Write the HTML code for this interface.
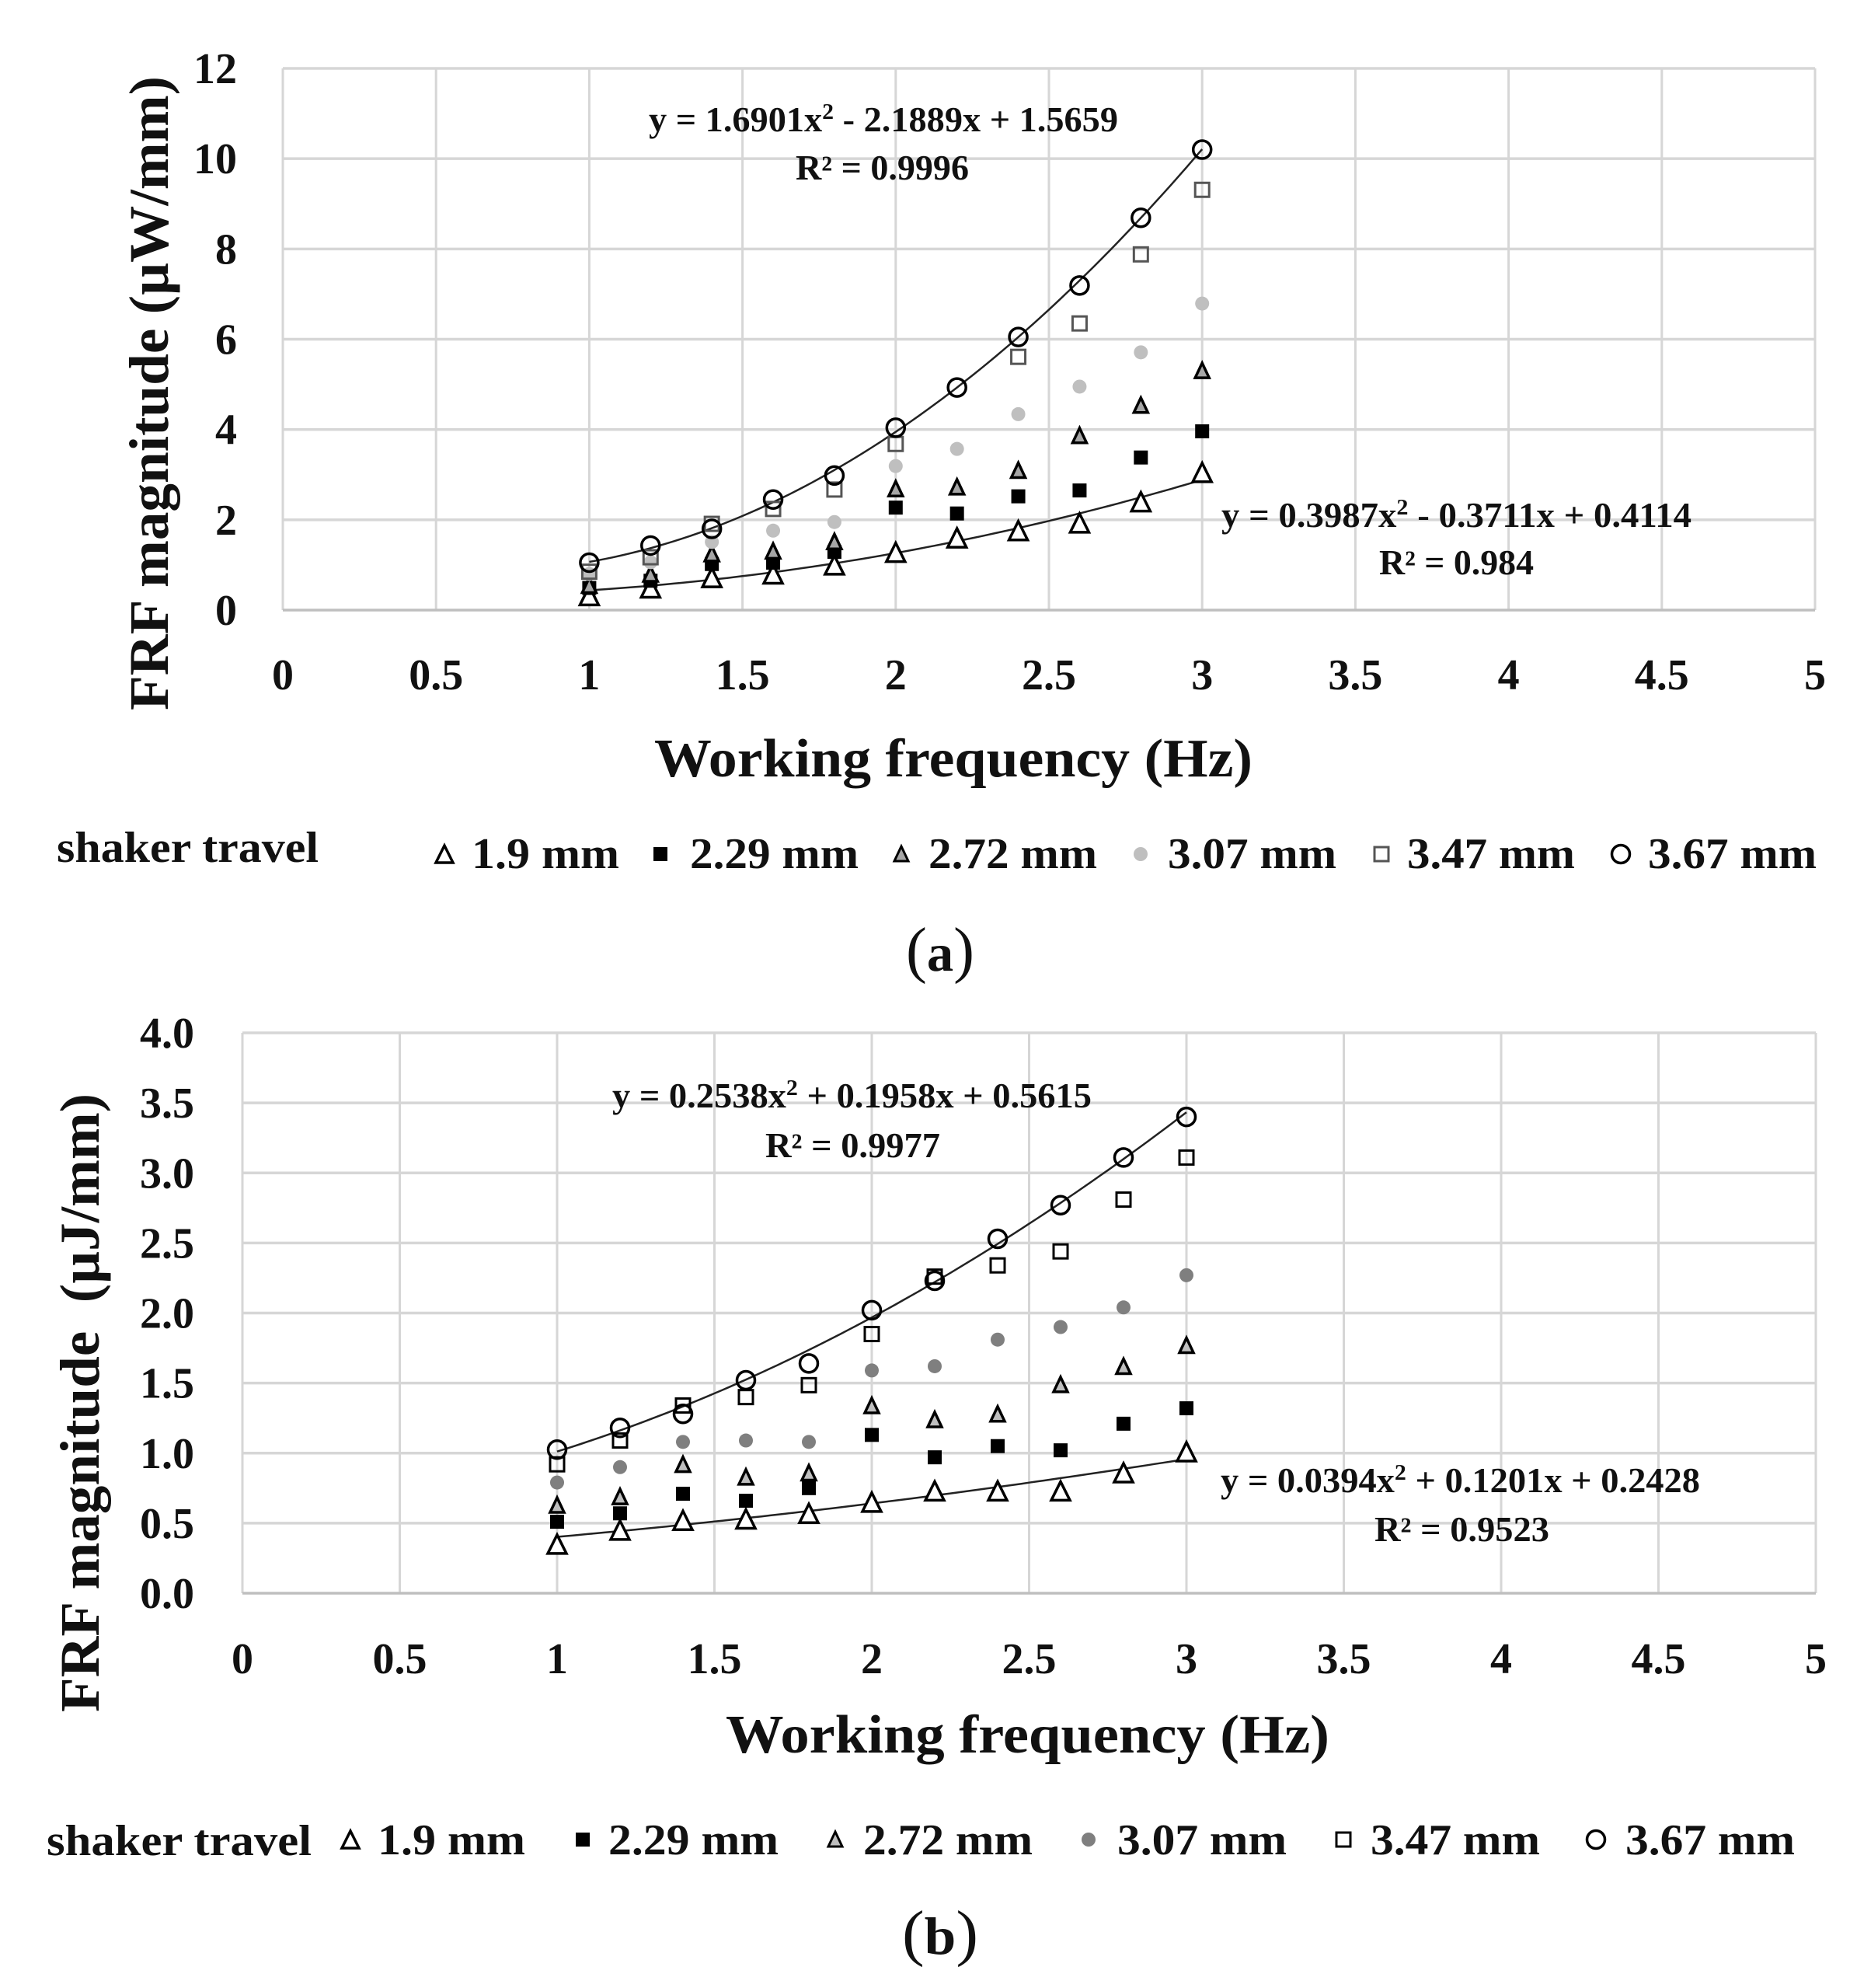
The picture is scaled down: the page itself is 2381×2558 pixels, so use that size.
<!DOCTYPE html>
<html lang="en">
<head>
<meta charset="utf-8">
<title>FRF magnitude vs working frequency</title>
<style>
html,body{margin:0;padding:0;background:#fff;}
svg{display:block;}
text{font-family:"Liberation Serif",serif;fill:#111;}
.b{font-weight:bold;}
</style>
</head>
<body>
<svg id="fig" xmlns="http://www.w3.org/2000/svg" width="2381" height="2558" viewBox="0 0 2381 2558">
  <rect width="2381" height="2558" fill="#fff"/>
  <g id="chartA"></g>
  <g id="chartB"></g>

  <!-- Chart A text -->
  <text class="b" font-size="72" text-anchor="middle" textLength="816" lengthAdjust="spacingAndGlyphs" transform="translate(216 506) rotate(-90)">FRF magnitude (µW/mm)</text>
  <text class="b" font-size="70" x="842" y="999" textLength="770" lengthAdjust="spacingAndGlyphs">Working frequency (Hz)</text>
  <text class="b" font-size="45" x="835" y="169" textLength="604" lengthAdjust="spacingAndGlyphs">y = 1.6901x<tspan font-size="29" dy="-16">2</tspan><tspan dy="16"> - 2.1889x + 1.5659</tspan></text>
  <text class="b" font-size="45" x="1024" y="231" textLength="223" lengthAdjust="spacingAndGlyphs">R² = 0.9996</text>
  <text class="b" font-size="45" x="1572" y="678" textLength="605" lengthAdjust="spacingAndGlyphs">y = 0.3987x<tspan font-size="29" dy="-16">2</tspan><tspan dy="16"> - 0.3711x + 0.4114</tspan></text>
  <text class="b" font-size="45" x="1775" y="739" textLength="199" lengthAdjust="spacingAndGlyphs">R² = 0.984</text>

  <!-- Chart A legend -->
  <g>
    <text class="b" font-size="56" x="73" y="1109" textLength="337" lengthAdjust="spacingAndGlyphs">shaker travel</text>
    <polygon points="572,1088 561,1110 583,1110" fill="#fff" stroke="#000" stroke-width="3.5"/>
    <text class="b" font-size="56" x="607" y="1117" textLength="190" lengthAdjust="spacingAndGlyphs">1.9 mm</text>
    <rect x="841" y="1090" width="18" height="18" fill="#000"/>
    <text class="b" font-size="56" x="888" y="1117" textLength="217" lengthAdjust="spacingAndGlyphs">2.29 mm</text>
    <polygon points="1160,1089 1151,1108 1169,1108" fill="#a6a6a6" stroke="#000" stroke-width="3"/>
    <text class="b" font-size="56" x="1195" y="1117" textLength="217" lengthAdjust="spacingAndGlyphs">2.72 mm</text>
    <circle cx="1468" cy="1099" r="9" fill="#bfbfbf"/>
    <text class="b" font-size="56" x="1503" y="1117" textLength="217" lengthAdjust="spacingAndGlyphs">3.07 mm</text>
    <rect x="1769" y="1090" width="18" height="18" fill="none" stroke="#555" stroke-width="3"/>
    <text class="b" font-size="56" x="1811" y="1117" textLength="216" lengthAdjust="spacingAndGlyphs">3.47 mm</text>
    <circle cx="2086" cy="1099" r="11.5" fill="none" stroke="#000" stroke-width="3.5"/>
    <text class="b" font-size="56" x="2121" y="1117" textLength="217" lengthAdjust="spacingAndGlyphs">3.67 mm</text>
  </g>
  <text font-size="80" x="1166" y="1249" textLength="88" lengthAdjust="spacingAndGlyphs">(<tspan class="b" font-size="68">a</tspan>)</text>

  <!-- Chart B text -->
  <text class="b" font-size="72" text-anchor="middle" textLength="796" lengthAdjust="spacingAndGlyphs" style="white-space:pre" transform="translate(127 1805) rotate(-90)">FRF magnitude  (µJ/mm)</text>
  <text class="b" font-size="70" x="934" y="2255" textLength="777" lengthAdjust="spacingAndGlyphs">Working frequency (Hz)</text>
  <text class="b" font-size="45" x="788" y="1425" textLength="617" lengthAdjust="spacingAndGlyphs">y = 0.2538x<tspan font-size="29" dy="-16">2</tspan><tspan dy="16"> + 0.1958x + 0.5615</tspan></text>
  <text class="b" font-size="45" x="985" y="1489" textLength="225" lengthAdjust="spacingAndGlyphs">R² = 0.9977</text>
  <text class="b" font-size="45" x="1571" y="1920" textLength="617" lengthAdjust="spacingAndGlyphs">y = 0.0394x<tspan font-size="29" dy="-16">2</tspan><tspan dy="16"> + 0.1201x + 0.2428</tspan></text>
  <text class="b" font-size="45" x="1769" y="1983" textLength="225" lengthAdjust="spacingAndGlyphs">R² = 0.9523</text>

  <!-- Chart B legend -->
  <g>
    <text class="b" font-size="56" x="60" y="2387" textLength="341" lengthAdjust="spacingAndGlyphs">shaker travel</text>
    <polygon points="451,2356 440,2378 462,2378" fill="#fff" stroke="#000" stroke-width="3.5"/>
    <text class="b" font-size="56" x="486" y="2386" textLength="190" lengthAdjust="spacingAndGlyphs">1.9 mm</text>
    <rect x="741" y="2358" width="18" height="18" fill="#000"/>
    <text class="b" font-size="56" x="783" y="2386" textLength="219" lengthAdjust="spacingAndGlyphs">2.29 mm</text>
    <polygon points="1075,2357 1066,2376 1084,2376" fill="#bfbfbf" stroke="#000" stroke-width="3"/>
    <text class="b" font-size="56" x="1111" y="2386" textLength="218" lengthAdjust="spacingAndGlyphs">2.72 mm</text>
    <circle cx="1401" cy="2367" r="9" fill="#7f7f7f"/>
    <text class="b" font-size="56" x="1438" y="2386" textLength="218" lengthAdjust="spacingAndGlyphs">3.07 mm</text>
    <rect x="1720" y="2358" width="18" height="18" fill="none" stroke="#000" stroke-width="3"/>
    <text class="b" font-size="56" x="1764" y="2386" textLength="218" lengthAdjust="spacingAndGlyphs">3.47 mm</text>
    <circle cx="2054" cy="2367" r="11.5" fill="none" stroke="#000" stroke-width="3.5"/>
    <text class="b" font-size="56" x="2092" y="2386" textLength="218" lengthAdjust="spacingAndGlyphs">3.67 mm</text>
  </g>
  <text font-size="80" x="1161" y="2514" textLength="98" lengthAdjust="spacingAndGlyphs">(<tspan class="b" font-size="68">b</tspan>)</text>
</svg>

<script>
// Shared x categories
const frequencies = [1, 1.2, 1.4, 1.6, 1.8, 2, 2.2, 2.4, 2.6, 2.8, 3];
const xTickLabels = ['0', '0.5', '1', '1.5', '2', '2.5', '3', '3.5', '4', '4.5', '5'];

// Chart A values (µW/mm)
const yTickLabelsA = ['0', '2', '4', '6', '8', '10', '12'];
const a19 = [0.32, 0.49, 0.72, 0.80, 1.00, 1.28, 1.60, 1.76, 1.93, 2.40, 3.05];
const a229 = [0.49, 0.65, 1.02, 1.05, 1.29, 2.27, 2.14, 2.52, 2.65, 3.38, 3.96];
const a272 = [0.55, 0.80, 1.25, 1.31, 1.52, 2.69, 2.73, 3.10, 3.87, 4.54, 5.31];
const a307 = [0.80, 1.06, 1.51, 1.76, 1.95, 3.19, 3.57, 4.34, 4.95, 5.71, 6.79];
const a347 = [0.85, 1.17, 1.91, 2.24, 2.67, 3.68, null, 5.61, 6.35, 7.88, 9.31];
const a367 = [1.05, 1.43, 1.80, 2.45, 2.98, 4.04, 4.93, 6.05, 7.19, 8.69, 10.20];
const trendUpperA = [1.6901, -2.1889, 1.5659];
const trendLowerA = [0.3987, -0.3711, 0.4114];

// Chart B values (µJ/mm)
const yTickLabelsB = ['0.0', '0.5', '1.0', '1.5', '2.0', '2.5', '3.0', '3.5', '4.0'];
const b19 = [0.35, 0.45, 0.52, 0.53, 0.57, 0.65, 0.73, 0.73, 0.73, 0.86, 1.01];
const b229 = [0.51, 0.57, 0.71, 0.66, 0.75, 1.13, 0.97, 1.05, 1.02, 1.21, 1.32];
const b272 = [0.63, 0.69, 0.92, 0.83, 0.86, 1.34, 1.24, 1.28, 1.49, 1.62, 1.77];
const b307 = [0.79, 0.90, 1.08, 1.09, 1.08, 1.59, 1.62, 1.81, 1.90, 2.04, 2.27];
const b347 = [0.92, 1.09, 1.34, 1.40, 1.485, 1.85, 2.26, 2.34, 2.44, 2.81, 3.11];
const b367 = [1.025, 1.18, 1.28, 1.52, 1.64, 2.02, 2.23, 2.53, 2.77, 3.11, 3.40];
const trendUpperB = [0.2538, 0.1958, 0.5615];
const trendLowerB = [0.0394, 0.1201, 0.2428];

const NS = 'http://www.w3.org/2000/svg';
function mk(tag, attrs, parent) {
  const el = document.createElementNS(NS, tag);
  for (const k in attrs) el.setAttribute(k, attrs[k]);
  parent.appendChild(el);
  return el;
}

function drawMarker(parent, kind, cx, cy, style, name) {
  let el;
  if (kind === 'triangle') {
    const w = style.w, h = style.h;
    el = mk('polygon', {
      points: cx + ',' + (cy - h / 2) + ' ' + (cx - w / 2) + ',' + (cy + h / 2) + ' ' + (cx + w / 2) + ',' + (cy + h / 2),
      fill: style.fill, stroke: style.stroke, 'stroke-width': 3.5
    }, parent);
  } else if (kind === 'square') {
    el = mk('rect', {
      x: cx - style.w / 2, y: cy - style.w / 2, width: style.w, height: style.w,
      fill: style.fill, stroke: style.stroke, 'stroke-width': style.sw
    }, parent);
  } else {
    el = mk('circle', {
      cx: cx, cy: cy, r: style.r,
      fill: style.fill, stroke: style.stroke, 'stroke-width': style.sw
    }, parent);
  }
  
  
}

function drawChart(cfg) {
  const root = document.getElementById(cfg.id);
  const xScale = v => cfg.x0 + (v - 0) / 5 * (cfg.x1 - cfg.x0);
  const yScale = v => cfg.y0 - v / cfg.yMax * (cfg.y0 - cfg.y1);

  cfg.xTicks.forEach(t => {
    const v = parseFloat(t);
    const g = mk('line', { x1: xScale(v), x2: xScale(v), y1: cfg.y1, y2: cfg.y0, stroke: '#d6d6d6', 'stroke-width': 3 }, root);
    
    
    const l = mk('text', { x: xScale(v), y: cfg.xLabelY, 'text-anchor': 'middle', 'font-size': 56, 'font-weight': 'bold' }, root);
    l.textContent = t;
    
    
  });
  cfg.yTicks.forEach(t => {
    const v = parseFloat(t);
    const g = mk('line', { x1: cfg.x0, x2: cfg.x1, y1: yScale(v), y2: yScale(v), stroke: v === 0 ? '#bfbfbf' : '#d6d6d6', 'stroke-width': 3.5 }, root);
    
    
    const l = mk('text', { x: cfg.yLabelX, y: yScale(v) + 19, 'text-anchor': 'end', 'font-size': 56, 'font-weight': 'bold' }, root);
    l.textContent = t;
    
    
  });

  cfg.trends.forEach(c => {
    let d = '';
    for (let i = 0; i <= 80; i++) {
      const x = 1 + 2 * i / 80;
      const y = c[0] * x * x + c[1] * x + c[2];
      d += (i ? 'L' : 'M') + xScale(x).toFixed(1) + ' ' + yScale(y).toFixed(1);
    }
    const p = mk('path', { d: d, fill: 'none', stroke: '#222', 'stroke-width': 2.5 }, root);
    
    
  });

  cfg.series.forEach(s => {
    const g = mk('g', {}, root);
    
    
    s.values.forEach((v, i) => {
      if (v === null) return;
      drawMarker(g, s.kind, xScale(frequencies[i]), yScale(v), s.style, s.name + '-point');
    });
  });
}

drawChart({
  id: 'chartA', x0: 364, x1: 2336, y0: 785, y1: 88, yMax: 12,
  xLabelY: 887, yLabelX: 305, xTicks: xTickLabels, yTicks: yTickLabelsA,
  trends: [trendUpperA, trendLowerA],
  series: [
    { name: 'series-1-9-mm', values: a19, kind: 'triangle', style: { w: 24, h: 24, fill: '#fff', stroke: '#000' } },
    { name: 'series-2-29-mm', values: a229, kind: 'square', style: { w: 18, fill: '#000', stroke: 'none', sw: 0 } },
    { name: 'series-2-72-mm', values: a272, kind: 'triangle', style: { w: 18, h: 19, fill: '#a6a6a6', stroke: '#000' } },
    { name: 'series-3-07-mm', values: a307, kind: 'circle', style: { r: 9, fill: '#bfbfbf', stroke: 'none', sw: 0 } },
    { name: 'series-3-47-mm', values: a347, kind: 'square', style: { w: 18, fill: 'none', stroke: '#555', sw: 3 } },
    { name: 'series-3-67-mm', values: a367, kind: 'circle', style: { r: 11.5, fill: 'none', stroke: '#000', sw: 3.5 } }
  ]
});

drawChart({
  id: 'chartB', x0: 312, x1: 2337, y0: 2050, y1: 1329, yMax: 4,
  xLabelY: 2153, yLabelX: 250, xTicks: xTickLabels, yTicks: yTickLabelsB,
  trends: [trendUpperB, trendLowerB],
  series: [
    { name: 'series-1-9-mm', values: b19, kind: 'triangle', style: { w: 24, h: 24, fill: '#fff', stroke: '#000' } },
    { name: 'series-2-29-mm', values: b229, kind: 'square', style: { w: 18, fill: '#000', stroke: 'none', sw: 0 } },
    { name: 'series-2-72-mm', values: b272, kind: 'triangle', style: { w: 18, h: 19, fill: '#bfbfbf', stroke: '#000' } },
    { name: 'series-3-07-mm', values: b307, kind: 'circle', style: { r: 9, fill: '#7f7f7f', stroke: 'none', sw: 0 } },
    { name: 'series-3-47-mm', values: b347, kind: 'square', style: { w: 18, fill: 'none', stroke: '#000', sw: 3 } },
    { name: 'series-3-67-mm', values: b367, kind: 'circle', style: { r: 11.5, fill: 'none', stroke: '#000', sw: 3.5 } }
  ]
});
</script>
</body>
</html>
